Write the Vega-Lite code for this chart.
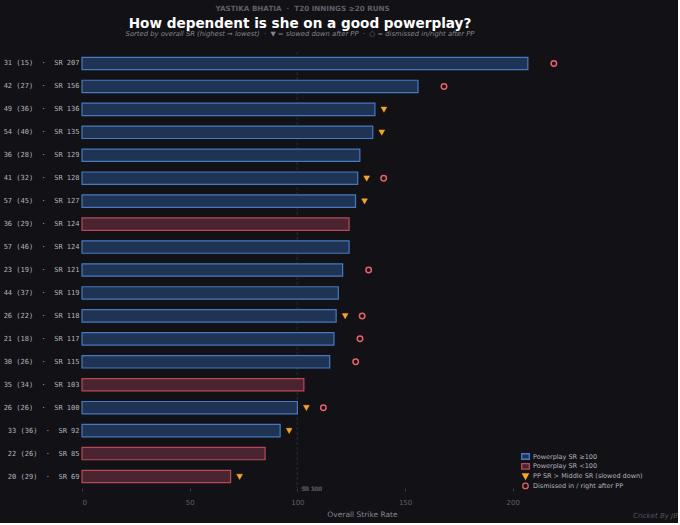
{
  "$schema": "https://vega.github.io/schema/vega-lite/v6.json",
  "background": "#111116",
  "padding": {"left": 3, "top": 4, "right": 0, "bottom": 4},
  "title": {
    "text": "YASTIKA BHATIA\u00a0\u00a0·\u00a0\u00a0T20 INNINGS ≥20 RUNS",
    "fontSize": 7.2,
    "fontWeight": "bold",
    "color": "#5f5f66",
    "font": "DejaVu Sans",
    "anchor": "middle",
    "dx": -38,
    "offset": 5
  },
  "vconcat": [
    {
      "title": {
        "text": "Cricket By JB",
        "orient": "bottom",
        "anchor": "end",
        "fontSize": 7,
        "fontStyle": "italic",
        "fontWeight": "normal",
        "color": "#55555c",
        "font": "DejaVu Sans",
        "offset": -6,
        "dx": 36
      },
      "vconcat": [
        {
          "title": {
            "text": "How dependent is she on a good powerplay?",
            "subtitle": "Sorted by overall SR (highest → lowest)\u00a0\u00a0·\u00a0\u00a0▼ = slowed down after PP\u00a0\u00a0·\u00a0\u00a0○ = dismissed in/right after PP",
            "fontSize": 13.6,
            "fontWeight": "bold",
            "color": "#ffffff",
            "font": "DejaVu Sans",
            "subtitleFont": "DejaVu Sans",
            "subtitleFontSize": 6.8,
            "subtitleFontStyle": "italic",
            "subtitleColor": "#85858c",
            "subtitlePadding": 0,
            "anchor": "middle",
            "dx": -62,
            "offset": 14
          },
          "width": 560,
          "height": 436,
          "data": {
            "values": [
              {"label": "31 (15)\u00a0\u00a0·\u00a0\u00a0SR 207", "sr": 207, "pp": "Powerplay SR ≥100", "slow": false, "out": true},
              {"label": "42 (27)\u00a0\u00a0·\u00a0\u00a0SR 156", "sr": 156, "pp": "Powerplay SR ≥100", "slow": false, "out": true},
              {"label": "49 (36)\u00a0\u00a0·\u00a0\u00a0SR 136", "sr": 136, "pp": "Powerplay SR ≥100", "slow": true, "out": false},
              {"label": "54 (40)\u00a0\u00a0·\u00a0\u00a0SR 135", "sr": 135, "pp": "Powerplay SR ≥100", "slow": true, "out": false},
              {"label": "36 (28)\u00a0\u00a0·\u00a0\u00a0SR 129", "sr": 129, "pp": "Powerplay SR ≥100", "slow": false, "out": false},
              {"label": "41 (32)\u00a0\u00a0·\u00a0\u00a0SR 128", "sr": 128, "pp": "Powerplay SR ≥100", "slow": true, "out": true},
              {"label": "57 (45)\u00a0\u00a0·\u00a0\u00a0SR 127", "sr": 127, "pp": "Powerplay SR ≥100", "slow": true, "out": false},
              {"label": "36 (29)\u00a0\u00a0·\u00a0\u00a0SR 124", "sr": 124, "pp": "Powerplay SR <100", "slow": false, "out": false},
              {"label": "57 (46)\u00a0\u00a0·\u00a0\u00a0SR 124", "sr": 124, "pp": "Powerplay SR ≥100", "slow": false, "out": false},
              {"label": "23 (19)\u00a0\u00a0·\u00a0\u00a0SR 121", "sr": 121, "pp": "Powerplay SR ≥100", "slow": false, "out": true},
              {"label": "44 (37)\u00a0\u00a0·\u00a0\u00a0SR 119", "sr": 119, "pp": "Powerplay SR ≥100", "slow": false, "out": false},
              {"label": "26 (22)\u00a0\u00a0·\u00a0\u00a0SR 118", "sr": 118, "pp": "Powerplay SR ≥100", "slow": true, "out": true},
              {"label": "21 (18)\u00a0\u00a0·\u00a0\u00a0SR 117", "sr": 117, "pp": "Powerplay SR ≥100", "slow": false, "out": true},
              {"label": "30 (26)\u00a0\u00a0·\u00a0\u00a0SR 115", "sr": 115, "pp": "Powerplay SR ≥100", "slow": false, "out": true},
              {"label": "35 (34)\u00a0\u00a0·\u00a0\u00a0SR 103", "sr": 103, "pp": "Powerplay SR <100", "slow": false, "out": false},
              {"label": "26 (26)\u00a0\u00a0·\u00a0\u00a0SR 100", "sr": 100, "pp": "Powerplay SR ≥100", "slow": true, "out": true},
              {"label": "33 (36)\u00a0\u00a0·\u00a0\u00a0SR 92", "sr": 92, "pp": "Powerplay SR ≥100", "slow": true, "out": false},
              {"label": "22 (26)\u00a0\u00a0·\u00a0\u00a0SR 85", "sr": 85, "pp": "Powerplay SR <100", "slow": false, "out": false},
              {"label": "20 (29)\u00a0\u00a0·\u00a0\u00a0SR 69", "sr": 69, "pp": "Powerplay SR <100", "slow": true, "out": false}
            ]
          },
          "encoding": {
            "y": {
              "field": "label",
              "type": "nominal",
              "sort": null,
              "scale": {"paddingInner": 0.46, "paddingOuter": 0.23},
              "axis": {
                "title": null,
                "domain": false,
                "ticks": false,
                "labelFont": "DejaVu Sans Mono",
                "labelFontSize": 7,
                "labelColor": "#b4b4bb",
                "labelPadding": 3
              }
            }
          },
          "layer": [
            {
              "mark": {"type": "rule", "stroke": "#222229", "strokeWidth": 1, "strokeDash": [3, 2]},
              "encoding": {
                "x": {"datum": 100, "type": "quantitative"},
                "y": null
              }
            },
            {
              "mark": {"type": "text", "text": "SR 100", "font": "DejaVu Sans", "fontSize": 5.8, "color": "#44444b", "align": "left", "baseline": "middle", "dx": 4, "dy": 1},
              "encoding": {
                "x": {"datum": 100, "type": "quantitative"},
                "y": {"value": "height"}
              }
            },
            {
              "mark": {"type": "bar", "strokeWidth": 1.2, "opacity": 1},
              "encoding": {
                "x": {
                  "field": "sr",
                  "type": "quantitative",
                  "scale": {"domain": [0, 260], "nice": false, "zero": true},
                  "axis": {
                    "title": "Overall Strike Rate",
                    "values": [0, 50, 100, 150, 200],
                    "grid": false,
                    "domain": false,
                    "tickColor": "#3a3a42",
                    "tickSize": 3,
                    "labelFont": "DejaVu Sans",
                    "labelFontSize": 7,
                    "labelColor": "#606068",
                    "labelPadding": 7,
                    "titleFont": "DejaVu Sans",
                    "titleFontSize": 7.5,
                    "titleFontWeight": "normal",
                    "titleColor": "#85858c",
                    "titlePadding": 5
                  }
                },
                "fill": {
                  "field": "pp",
                  "type": "nominal",
                  "scale": {
                    "domain": ["Powerplay SR ≥100", "Powerplay SR <100", "PP SR > Middle SR (slowed down)", "Dismissed in / right after PP"],
                    "range": ["#1f3454", "#4a2430", "#f5a52a", "transparent"]
                  },
                  "legend": {"title": null, "symbolSize": 30, "rowPadding": -1.2}
                },
                "stroke": {
                  "field": "pp",
                  "type": "nominal",
                  "scale": {
                    "domain": ["Powerplay SR ≥100", "Powerplay SR <100", "PP SR > Middle SR (slowed down)", "Dismissed in / right after PP"],
                    "range": ["#4679bf", "#b94a55", "#f5a52a", "#e8606c"]
                  },
                  "legend": {"title": null, "symbolSize": 30, "rowPadding": -1.2}
                }
              }
            },
            {
              "transform": [{"filter": "datum.slow"}],
              "mark": {"type": "point", "filled": true, "size": 34, "opacity": 1, "xOffset": 9, "strokeWidth": 0.5},
              "encoding": {
                "x": {"field": "sr", "type": "quantitative"},
                "fill": {"datum": "PP SR > Middle SR (slowed down)"},
                "stroke": {"datum": "PP SR > Middle SR (slowed down)"},
                "shape": {
                  "datum": "PP SR > Middle SR (slowed down)",
                  "scale": {
                    "domain": ["Powerplay SR ≥100", "Powerplay SR <100", "PP SR > Middle SR (slowed down)", "Dismissed in / right after PP"],
                    "range": ["M-1.4,-1H1.4V1H-1.4Z", "M-1.4,-1H1.4V1H-1.4Z", "M-1,-0.8L1,-0.8L0,1Z", "circle"]
                  },
                  "legend": {"title": null, "symbolSize": 30, "rowPadding": -1.2}
                }
              }
            },
            {
              "transform": [{"filter": "datum.out"}],
              "mark": {"type": "point", "filled": false, "size": 30, "opacity": 1, "xOffset": 26, "strokeWidth": 1.5},
              "encoding": {
                "x": {"field": "sr", "type": "quantitative"},
                "fill": {"datum": "Dismissed in / right after PP"},
                "stroke": {"datum": "Dismissed in / right after PP"},
                "shape": {"datum": "Dismissed in / right after PP"}
              }
            }
          ]
        }
      ]
    }
  ],
  "config": {
    "view": {"stroke": null},
    "legend": {
      "orient": "none",
      "legendX": 440,
      "legendY": 401,
      "labelFont": "DejaVu Sans",
      "labelFontSize": 6.5,
      "labelColor": "#b4b4bb",
      "symbolSize": 30,
      "symbolStrokeWidth": 1.3,
      "rowPadding": -1.2,
      "labelOffset": 4,
      "labelLimit": 300
    }
  }
}
